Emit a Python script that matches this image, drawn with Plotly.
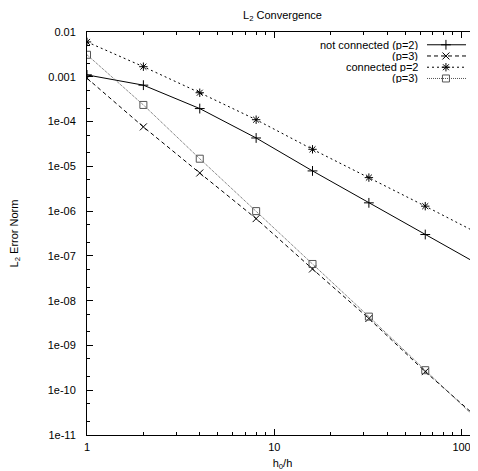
import plotly.graph_objects as go
import math

# ---- data ----
h_ratio = [1, 2, 4, 8, 16, 32, 64, 128]
err_nc_p2 = [1.1e-3, 6.5e-4, 1.95e-4, 4.3e-5, 7.9e-6, 1.53e-6, 3.0e-7, 5.9e-8]
err_nc_p3 = [9.3e-4, 7.6e-5, 7.1e-6, 6.8e-7, 5.1e-8, 4.0e-9, 2.6e-10, 2.0e-11]
err_c_p2 = [6.0e-3, 1.68e-3, 4.4e-4, 1.1e-4, 2.4e-5, 5.6e-6, 1.29e-6, 2.9e-7]
err_c_p3 = [3.1e-3, 2.35e-4, 1.48e-5, 1.0e-6, 6.6e-8, 4.4e-9, 2.8e-10, 1.8e-11]

series_names = ["not connected (p=2)", "(p=3)", "connected p=2", "(p=3)"]
y_tickvals = [1e-2, 1e-3, 1e-4, 1e-5, 1e-6, 1e-7, 1e-8, 1e-9, 1e-10, 1e-11]
y_ticktext = ["0.01", "0.001", "1e-04", "1e-05", "1e-06", "1e-07", "1e-08", "1e-09", "1e-10", "1e-11"]
x_tickvals = [1, 10, 100]
x_ticktext = ["1", "10", "100"]

FONT = "Liberation Sans, Arial, sans-serif"
styles = [
    dict(color="black", dash="solid", symbol="cross-thin-open", size=7),
    dict(color="black", dash="4px,3px", symbol="x-thin-open", size=7),
    dict(color="black", dash="2px,3px", symbol="asterisk-open", size=7),
    dict(color="#555555", dash="1px,1px", symbol="square-open", size=7),
]
all_series = [err_nc_p2, err_nc_p3, err_c_p2, err_c_p3]

fig = go.Figure()
for ys, st, name in zip(all_series, styles, series_names):
    fig.add_trace(go.Scatter(
        x=h_ratio, y=ys, mode="lines+markers", name=name, showlegend=False,
        line=dict(color=st["color"], width=1, dash=st["dash"]),
        marker=dict(symbol=st["symbol"], size=st["size"],
                    color=st["color"], line=dict(color=st["color"], width=1)),
        cliponaxis=True,
    ))

# legend keys (gnuplot style: text left, sample right) on an overlay axis
key_rows = [0.9683, 0.9405, 0.9126, 0.8847]
for st, name, ry in zip(styles, series_names, key_rows):
    fig.add_trace(go.Scatter(
        x=[0.8696, 0.9693], y=[ry, ry], mode="lines", xaxis="x2", yaxis="y2",
        showlegend=False, hoverinfo="skip",
        line=dict(color=st["color"], width=1, dash=st["dash"]),
    ))
    fig.add_trace(go.Scatter(
        x=[0.918], y=[ry], mode="markers", xaxis="x2", yaxis="y2",
        showlegend=False, hoverinfo="skip",
        marker=dict(symbol=st["symbol"], size=st["size"], color=st["color"],
                    line=dict(color=st["color"], width=1)),
    ))
    fig.add_annotation(x=0.852, y=ry, xref="x2", yref="y2", text=name,
                       showarrow=False, xanchor="right", yanchor="middle",
                       height=10, valign="middle",
                       font=dict(family=FONT, size=11, color="black"))

x_hi = math.log10(122.4)
# page body has an 8px margin: figure is 470x463 placed at (8, 8)
fig.update_layout(
    width=470, height=463,
    margin=dict(l=79, r=0, t=24, b=36),
    paper_bgcolor="white", plot_bgcolor="white",
    font=dict(family=FONT, size=11, color="black"),
    title=dict(text="L<sub>2</sub> Convergence", x=0.5, xref="paper",
               y=0.985, yref="container", yanchor="middle",
               font=dict(family=FONT, size=11, color="black")),
    xaxis=dict(type="log", range=[0, x_hi], tickvals=x_tickvals, ticktext=x_ticktext,
               ticks="inside", ticklen=6, tickcolor="black", tickwidth=1,
               showline=True, linecolor="black", linewidth=1, mirror="ticks",
               showgrid=False, zeroline=False,
               minor=dict(ticks="inside", ticklen=3, dtick="D1", tickcolor="black", showgrid=False),
               ticklabelstandoff=2,
               title=dict(text="h<sub>0</sub>/h", standoff=8, font=dict(size=11)),
               tickfont=dict(size=11)),
    yaxis=dict(type="log", range=[-11, -2], tickvals=y_tickvals, ticktext=y_ticktext,
               ticks="inside", ticklen=6, tickcolor="black", tickwidth=1,
               showline=True, linecolor="black", linewidth=1, mirror=False,
               showgrid=False, zeroline=False,
               minor=dict(ticks="inside", ticklen=3, dtick="D2", tickcolor="black", showgrid=False),
               ticklabelstandoff=8,
               title=dict(text="L<sub>2</sub> Error Norm", standoff=30, font=dict(size=11)),
               tickfont=dict(size=11)),
    xaxis2=dict(overlaying="x", range=[0, 1], visible=False, fixedrange=True),
    yaxis2=dict(overlaying="y", range=[0, 1], visible=False, fixedrange=True),
)

fig.write_html("out.html")
